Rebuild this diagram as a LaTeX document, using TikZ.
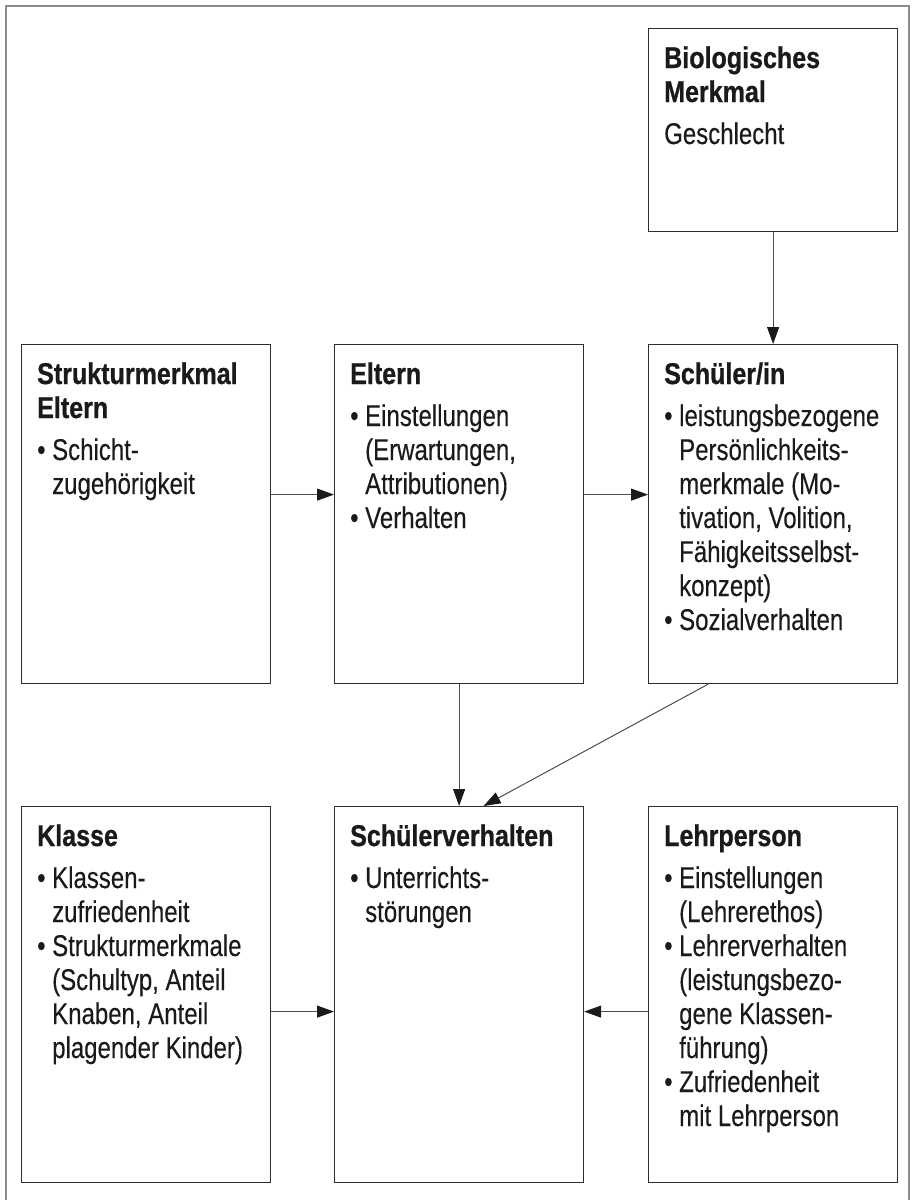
\documentclass[tikz,border=0pt]{standalone}
\usepackage{fontspec}
\setmainfont{Liberation Sans}[FakeStretch=0.80, FakeBold=0.25]
\newfontfamily\headfont{Liberation Sans}[FakeStretch=0.835, FakeBold=0.8]
\usetikzlibrary{arrows.meta,calc}
\definecolor{ink}{HTML}{1A1A1A}
\definecolor{boxline}{HTML}{2E2E2E}
\definecolor{arrowline}{HTML}{4D4D4D}
\definecolor{framegray}{HTML}{8C8C8C}
% bullet with hanging indent, and the matching indent for continuation lines
\newcommand{\bul}{\makebox[15pt][l]{•}}
\newcommand{\ind}{\hspace*{15pt}}
\newcommand{\hd}[1]{{\headfont\bfseries #1}}
\newcommand{\boxbody}[1]{\parbox[t]{240pt}{\fontsize{30}{34}\selectfont\raggedright #1}}

\begin{document}
\begin{tikzpicture}[x=1pt,y=-1pt,
  panel/.style={draw=boxline, line width=1.2pt, inner sep=0pt,
                minimum width=249pt, anchor=north west},
  label/.style={anchor=base west, inner sep=0pt, text=ink},
  link/.style={draw=arrowline, line width=1pt,
               -{Triangle[length=17pt,width=12pt,color=ink]}}]
\useasboundingbox (0,0) rectangle (912,1200);

% outer frame
\draw[framegray, line width=1.5pt] (6,1200) -- (6,6) -- (909,6) -- (909,1200);

% panels
\node[panel, minimum height=203pt] (bio) at (648,28) {};
\node[panel, minimum height=339pt] (sme) at (21,344) {};
\node[panel, minimum height=339pt] (elt) at (334,344) {};
\node[panel, minimum height=339pt] (sch) at (648,344) {};
\node[panel, minimum height=376pt] (kla) at (21,806) {};
\node[panel, minimum height=376pt] (sv)  at (334,806) {};
\node[panel, minimum height=376pt] (leh) at (648,806) {};

% panel texts
\node[label] (bioT) at ($(bio.north west)+(16,40)$) {\boxbody{%
  \hd{Biologisches}\\ \hd{Merkmal}\\[8pt]
  Geschlecht}};
\node[label] (smeT) at ($(sme.north west)+(16,40)$) {\boxbody{%
  \hd{Strukturmerkmal}\\ \hd{Eltern}\\[8pt]
  \bul Schicht-\\ \ind zugehörigkeit}};
\node[label] (eltT) at ($(elt.north west)+(16,40)$) {\boxbody{%
  \hd{Eltern}\\[8pt]
  \bul Einstellungen\\ \ind (Erwartungen,\\ \ind Attributionen)\\
  \bul Verhalten}};
\node[label] (schT) at ($(sch.north west)+(16,40)$) {\boxbody{%
  \hd{Schüler/in}\\[8pt]
  \bul leistungsbezogene\\ \ind Persönlichkeits-\\ \ind merkmale (Mo-\\
  \ind tivation, Volition,\\ \ind Fähigkeitsselbst-\\ \ind konzept)\\
  \bul Sozialverhalten}};
\node[label] (klaT) at ($(kla.north west)+(16,40)$) {\boxbody{%
  \hd{Klasse}\\[8pt]
  \bul Klassen-\\ \ind zufriedenheit\\
  \bul Strukturmerkmale\\ \ind (Schultyp, Anteil\\ \ind Knaben, Anteil\\
  \ind plagender Kinder)}};
\node[label] (svT) at ($(sv.north west)+(16,40)$) {\boxbody{%
  \hd{Schülerverhalten}\\[8pt]
  \bul Unterrichts-\\ \ind störungen}};
\node[label] (lehT) at ($(leh.north west)+(16,40)$) {\boxbody{%
  \hd{Lehrperson}\\[8pt]
  \bul Einstellungen\\ \ind (Lehrerethos)\\
  \bul Lehrerverhalten\\ \ind (leistungsbezo-\\ \ind gene Klassen-\\ \ind führung)\\
  \bul Zufriedenheit\\ \ind mit Lehrperson}};

% connectors
\draw[link] (bio.south) -- (sch.north);
\draw[link] ([yshift=19.5pt]sme.east) -- ([yshift=19.5pt]elt.west);
\draw[link] ([yshift=19.5pt]elt.east) -- ([yshift=19.5pt]sch.west);
\draw[link] (elt.south) -- (sv.north);
\draw[link] ([xshift=-65pt]sch.south) -- ([xshift=24.5pt]sv.north);
\draw[link] ([yshift=-17pt]kla.east) -- ([yshift=-17pt]sv.west);
\draw[link] ([yshift=-17pt]leh.west) -- ([yshift=-17pt]sv.east);
\end{tikzpicture}
\end{document}
